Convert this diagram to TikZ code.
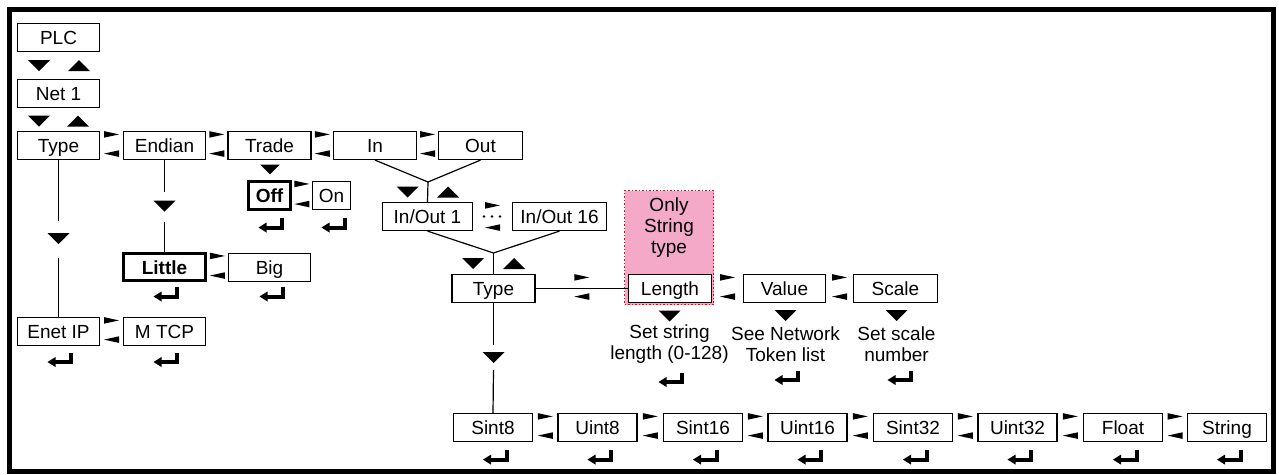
\documentclass[tikz,border=0pt]{standalone}
\usepackage{fontspec}
\setmainfont{Liberation Sans}
\usetikzlibrary{calc}
\definecolor{pinkfill}{HTML}{F4A9C9}
\tikzset{
  box/.style={draw, fill=white, line width=1.2pt, minimum height=28pt, inner sep=0pt,
    text height=14.4pt, text depth=0pt, font=\fontsize{19}{21}\selectfont},
  thickbox/.style={box, line width=3pt},
  txt/.style={align=center, inner sep=0pt, font=\fontsize{19}{20.5}\selectfont},
  conn/.style={line width=1.2pt},
  dn/.pic={\fill (-11,-5.5) -- (11,-5.5) -- (0,5.5) -- cycle;},
  up/.pic={\fill (-11,5.5) -- (11,5.5) -- (0,-5.5) -- cycle;},
  sepr/.pic={\fill (-7.5,-3.3) -- (7.5,0) -- (-7.5,3.3) -- cycle;},
  sepl/.pic={\fill (7.5,-3.3) -- (-7.5,0) -- (7.5,3.3) -- cycle;},
  enter/.pic={\fill (9.5,-7) rectangle (13.5,4.5);
              \fill (-4.5,0.5) rectangle (13.5,4.5);
              \fill (-12,2.5) -- (-4,-2.5) -- (-4,7.5) -- cycle;}
}
\newcommand\sepp[2]{%
  \pic at ($(#1.north east)!0.5!(#2.north west)+(0,3.5)$) {sepr};
  \pic at ($(#1.south east)!0.5!(#2.south west)+(0,-6.5)$) {sepl};}
\newcommand\entr[1]{\pic at ($(#1.south)+(2,15)$) {enter};}
\begin{document}
\begin{tikzpicture}[x=1pt,y=-1pt]
\useasboundingbox (0,0) rectangle (1279,474);
\draw[line width=5pt] (9.5,9.5) rectangle (1273.5,471.5);

% pink region
\node[draw=red, dotted, line width=1.5pt, fill=pinkfill, minimum width=89pt, minimum height=114pt, inner sep=0pt] (only) at (669,247.5) {};
\node[txt, font=\fontsize{19}{21}\selectfont] (onlytxt) at (669,228) {Only\\String\\type};

% top column
\node[box, minimum width=82pt] (plc) at (58.5,37.5) {PLC};
\node[box, minimum width=82pt] (net) at (58.5,93.5) {Net 1};
\node[box, minimum width=82pt] (type) at (58.5,145.5) {Type};
\node[box, minimum width=82pt] (endian) at (164.5,145.5) {Endian};
\node[box, minimum width=83pt] (trade) at (269.5,145.5) {Trade};
\node[box, minimum width=83pt] (in) at (375,145.5) {In};
\node[box, minimum width=84pt] (out) at (480.5,145.5) {Out};

\node[thickbox, minimum width=42pt, minimum height=28pt] (off) at (269.5,195.5) {\bfseries Off};
\node[box, minimum width=38pt] (on) at (331.5,195.5) {On};

\node[box, minimum width=90pt] (io1) at (427.5,216.5) {In/Out 1};
\node[box, minimum width=94pt] (io16) at (559.5,216.5) {In/Out 16};

\node[box, minimum width=83pt] (type2) at (493.5,288.5) {Type};
\node[box, minimum width=83pt] (length) at (670,288.5) {Length};
\node[box, minimum width=82pt] (value) at (784.5,288.5) {Value};
\node[box, minimum width=84pt] (scale) at (895.5,288.5) {Scale};

\node[thickbox, minimum width=82pt, minimum height=27pt] (little) at (164.5,267) {\bfseries Little};
\node[box, minimum width=82pt] (big) at (269.5,267.5) {Big};

\node[box, minimum width=82pt] (enet) at (58.5,331.5) {Enet IP};
\node[box, minimum width=82pt] (mtcp) at (164.5,331.5) {M TCP};

% bottom row
\node[box, minimum width=79pt] (b1) at (493,427.5) {Sint8};
\node[box, minimum width=79pt] (b2) at (597.5,427.5) {Uint8};
\node[box, minimum width=79pt] (b3) at (703,427.5) {Sint16};
\node[box, minimum width=79pt] (b4) at (807.5,427.5) {Uint16};
\node[box, minimum width=79pt] (b5) at (913,427.5) {Sint32};
\node[box, minimum width=79pt] (b6) at (1017.5,427.5) {Uint32};
\node[box, minimum width=79pt] (b7) at (1123,427.5) {Float};
\node[box, minimum width=79pt] (b8) at (1227,427.5) {String};

% descriptive texts
\node[txt] (t1) at (669.5,344) {Set string\\length (0-128)};
\node[txt] (t2) at (785.5,344) {See Network\\Token list};
\node[txt] (t3) at (896.5,344) {Set scale\\number};

% connector coordinates
\coordinate (j1) at (428,182);
\coordinate (j2) at (493.5,253);
\coordinate (ta) at (58.5,221);
\coordinate (tb) at (58.5,258);
\coordinate (ea) at (164.5,192);
\coordinate (eb) at (164.5,222);
\coordinate (sa) at (493.5,345);
\coordinate (sb) at (493.5,370);

\draw[conn] (in.south) -- (j1) -- (out.south);
\draw[conn] (j1) -- (io1.north);
\draw[conn] (io1.south) -- (j2) -- (io16.south);
\draw[conn] (j2) -- (type2.north);
\draw[conn] (type2.east) -- (length.west);
\draw[conn] (type.south) -- (ta);
\draw[conn] (enet.north) -- (tb);
\draw[conn] (endian.south) -- (ea);
\draw[conn] (little.north) -- (eb);
\draw[conn] (type2.south) -- (sa);
\draw[conn] (b1.north) -- (sb);

% navigation triangles
\pic at (39,65.5) {dn};  \pic at (79,65.5) {up};
\pic at (39,121) {dn};   \pic at (78,121) {up};
\pic at (58.5,238.5) {dn};
\pic at (164.5,206) {dn};
\pic[scale=0.9] at (270,169.5) {dn};
\pic at (407.5,192) {dn}; \pic at (448,192) {up};
\pic at (473,263.5) {dn}; \pic at (514,263.5) {up};
\pic at (493.5,357.5) {dn};
\pic at (669.5,316) {dn};
\pic at (785.5,315.5) {dn};
\pic at (896.5,315.5) {dn};

% separators
\sepp{type}{endian}
\sepp{endian}{trade}
\sepp{trade}{in}
\sepp{in}{out}
\sepp{off}{on}
\sepp{little}{big}
\sepp{enet}{mtcp}
\sepp{type2}{length}
\sepp{length}{value}
\sepp{value}{scale}
\pic at ($(io1.north east)!0.5!(io16.north west)+(0,3.5)$) {sepr};
\pic at ($(io1.south east)!0.5!(io16.south west)+(0,-3.5)$) {sepl};
\sepp{b1}{b2}
\sepp{b2}{b3}
\sepp{b3}{b4}
\sepp{b4}{b5}
\sepp{b5}{b6}
\sepp{b6}{b7}
\sepp{b7}{b8}
\fill (484,216.5) circle (1.4pt) (492,216.5) circle (1.4pt) (500,216.5) circle (1.4pt);

% enter symbols
\pic at (270.5,225) {enter};
\pic at (333.5,225) {enter};
\pic at (165.5,294) {enter};
\pic at (271.5,294) {enter};
\pic at (59.5,359.5) {enter};
\pic at (165.5,359.5) {enter};
\pic at (670.5,379.5) {enter};
\pic at (786.5,377.5) {enter};
\pic at (899.5,377.5) {enter};
\entr{b1}\entr{b2}\entr{b3}\entr{b4}\entr{b5}\entr{b6}\entr{b7}\entr{b8}
\end{tikzpicture}
\end{document}
